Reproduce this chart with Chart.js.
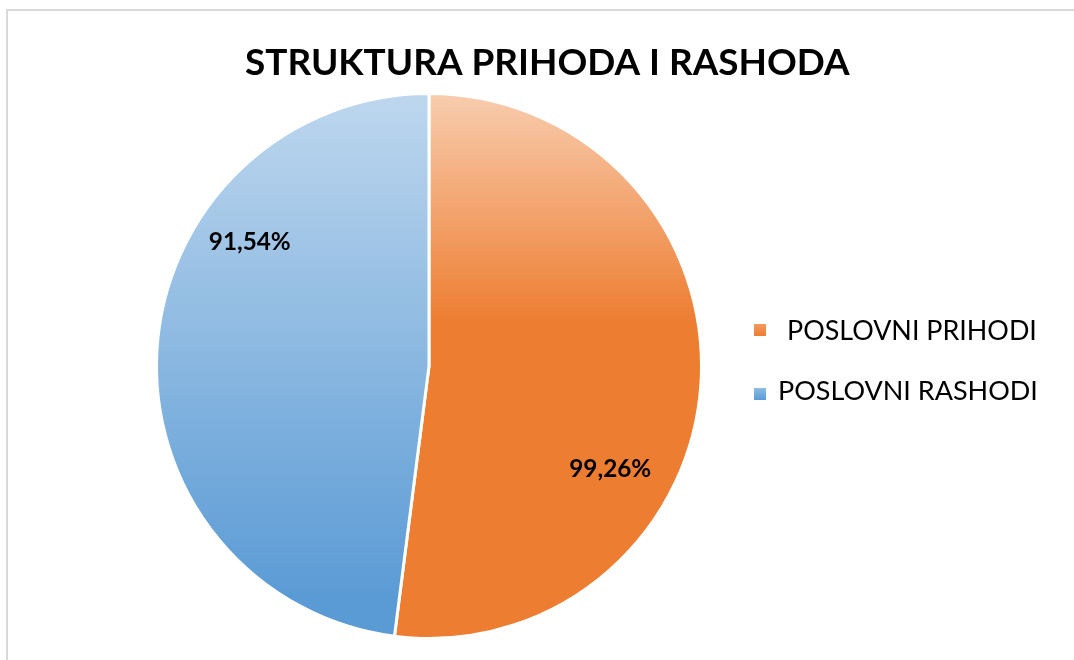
<!DOCTYPE html>
<html>
<head>
<meta charset="utf-8">
<script src="https://cdn.jsdelivr.net/npm/chart.js@4.4.1/dist/chart.umd.min.js"></script>
<style>
  html,body{margin:0;padding:0;background:#fff;overflow:hidden;}
  #frame{position:absolute;left:6px;top:9px;width:1200px;height:800px;border:2px solid #d9d9d9;box-sizing:border-box;}
  #wrap{position:absolute;left:0;top:0;width:1074px;height:660px;}
</style>
</head>
<body>
<div id="frame"></div>
<div id="wrap"><canvas id="c" width="1074" height="660"></canvas></div>
<script>
// ---- data ----
const title = "STRUKTURA PRIHODA I RASHODA";
const categories = ["POSLOVNI PRIHODI", "POSLOVNI RASHODI"];
const values = [99.26, 91.54];
const valueLabels = ["99,26%", "91,54%"];

// ---- styles ----
const FONT = "Lato, 'Open Sans', sans-serif";
const gradStops = [
  [[0, "#F8CDAF"], [0.42, "#ED7D31"], [1, "#ED7D31"]],
  [[0, "#BED7EE"], [0.92, "#5B9BD5"], [1, "#5B9BD5"]]
];
const solid = ["#ED7D31", "#5B9BD5"];
const labelPlace = [{angle: 119.6, r: 0.765}, {angle: 304.7, r: 0.80}];

function fitSize(ctx, text, weight, target) {
  ctx.font = weight + " 100px " + FONT;
  return 100 * target / ctx.measureText(text).width;
}

const overlay = {
  id: 'overlay',
  afterDraw(chart) {
    const ctx = chart.ctx;
    ctx.save();
    ctx.fillStyle = "#000";
    ctx.textBaseline = "alphabetic";
    // title
    let s = fitSize(ctx, title, "bold", 605);
    ctx.font = "bold " + s + "px " + FONT;
    ctx.textAlign = "left";
    ctx.fillText(title, 245, 75);
    // legend
    const leg = [{mx: 754, my: 324, tx: 787, by: 340, w: 250}, {mx: 754, my: 388, tx: 778, by: 400, w: 260}];
    categories.forEach((c, i) => {
      const L = leg[i];
      const g = ctx.createLinearGradient(0, L.my, 0, L.my + 12);
      g.addColorStop(0, i === 0 ? "#F29A5E" : "#8DBBE5");
      g.addColorStop(1, solid[i]);
      ctx.fillStyle = g;
      ctx.fillRect(L.mx, L.my, 12, 12);
      ctx.fillStyle = "#000";
      const fs = fitSize(ctx, c, "normal", L.w);
      ctx.font = "normal " + fs + "px " + FONT;
      ctx.fillText(c, L.tx, L.by);
    });
    // data labels
    const meta = chart.getDatasetMeta(0);
    meta.data.forEach((arc, i) => {
      const p = labelPlace[i];
      const a = p.angle * Math.PI / 180;
      const x = arc.x + Math.sin(a) * arc.outerRadius * p.r;
      const y = arc.y - Math.cos(a) * arc.outerRadius * p.r;
      const fs = fitSize(ctx, valueLabels[i], "bold", 82);
      ctx.font = "bold " + fs + "px " + FONT;
      ctx.textAlign = "center";
      ctx.textBaseline = "middle";
      ctx.fillText(valueLabels[i], x, y);
    });
    ctx.restore();
  }
};

new Chart(document.getElementById('c'), {
  type: 'pie',
  data: {
    labels: categories,
    datasets: [{
      data: values,
      backgroundColor: (context) => {
        const chart = context.chart;
        const area = chart.chartArea;
        const i = context.dataIndex;
        if (!area) return solid[i];
        const g = chart.ctx.createLinearGradient(0, area.top, 0, area.bottom);
        gradStops[i].forEach(st => g.addColorStop(st[0], st[1]));
        return g;
      },
      borderColor: "#ffffff",
      borderWidth: 3
    }]
  },
  options: {
    responsive: false,
    animation: false,
    devicePixelRatio: 1,
    layout: {padding: {left: 155, top: 92, right: 371, bottom: 20}},
    plugins: {
      legend: {display: false},
      title: {display: false},
      tooltip: {enabled: false}
    }
  },
  plugins: [overlay]
});
</script>
</body>
</html>
